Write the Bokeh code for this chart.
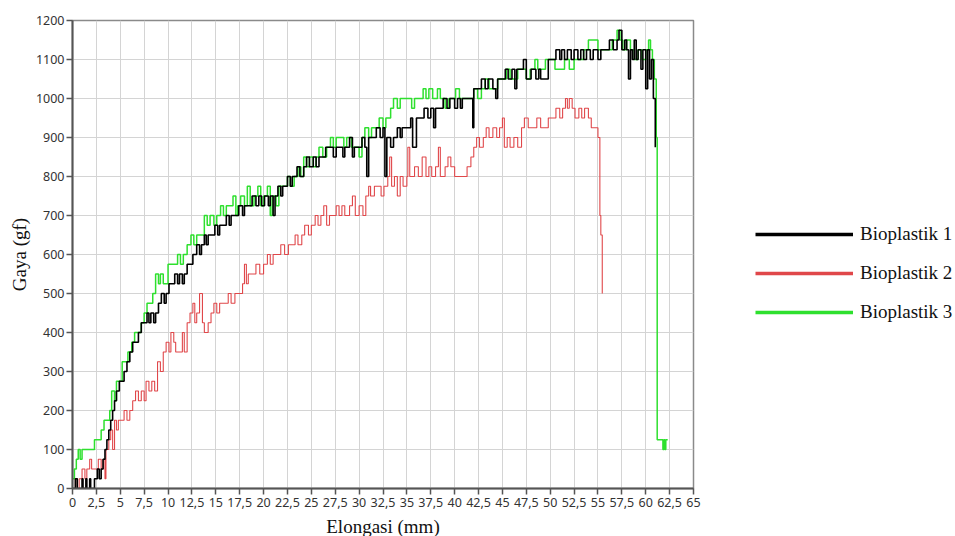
from bokeh.plotting import figure
from bokeh.models import FixedTicker, Legend, LegendItem, Range1d
from bokeh.embed import file_html
from bokeh.resources import INLINE

# ---------------- data ----------------
x_ticks = [0, 2.5, 5, 7.5, 10, 12.5, 15, 17.5, 20, 22.5, 25, 27.5, 30, 32.5, 35,
           37.5, 40, 42.5, 45, 47.5, 50, 52.5, 55, 57.5, 60, 62.5, 65]
x_tick_labels = ["0", "2,5", "5", "7,5", "10", "12,5", "15", "17,5", "20", "22,5",
                 "25", "27,5", "30", "32,5", "35", "37,5", "40", "42,5", "45",
                 "47,5", "50", "52,5", "55", "57,5", "60", "62,5", "65"]
y_ticks = [0, 100, 200, 300, 400, 500, 600, 700, 800, 900, 1000, 1100, 1200]

series_names = ["Bioplastik 1", "Bioplastik 2", "Bioplastik 3"]
series_colors = ["#000000", "#e0474a", "#2ee02e"]

# Bioplastik 1 (black)
x_b1 = [0, 0.3, 0.5, 1.0, 1.1, 1.4, 1.5, 1.8, 1.9, 2.3, 2.6, 2.8, 3.0, 3.2, 3.4, 3.6,
        3.8, 4.0, 4.2, 4.4, 4.6, 4.9, 5.1, 5.4, 5.7, 6.0, 6.3, 6.6, 6.9, 7.2, 7.5,
        7.8, 8.0, 8.2, 8.5, 8.7, 9.0, 9.3, 9.6, 9.8, 10.1, 10.4, 10.7, 11.0, 11.2,
        11.5, 11.7, 12.0, 12.4, 12.6, 13.0, 13.3, 13.5, 13.8, 14.0, 14.2, 14.6, 14.9,
        15.2, 15.4, 15.8, 16.1, 16.4, 16.6, 17.0, 17.4, 17.8, 18.0, 18.5, 18.8, 19.2,
        19.5, 19.8, 20.1, 20.5, 20.7, 21.0, 21.2, 21.5, 21.8, 22.0, 22.5, 22.8, 23.0,
        23.5, 23.8, 24.2, 24.5, 24.8, 25.2, 25.5, 25.8, 26.2, 26.5, 27.0, 27.3, 27.6,
        28.0, 28.3, 28.5, 29.0, 29.3, 29.5, 30.0, 30.3, 30.6, 30.8, 31.0, 31.5, 31.8,
        32.2, 32.5, 32.7, 32.9, 33.3, 33.6, 34.0, 34.3, 34.5, 35.0, 35.4, 35.6, 36.0,
        36.5, 36.8, 37.2, 37.5, 37.8, 38.0, 38.5, 38.8, 39.2, 39.5, 40.0, 40.3, 40.6,
        40.8, 41.2, 41.5, 41.9, 42.0, 42.5, 42.8, 43.2, 43.5, 44.0, 44.3, 44.5, 45.0,
        45.3, 45.6, 46.0, 46.3, 46.5, 47.0, 47.2, 47.5, 48.0, 48.5, 48.8, 49.0, 49.8,
        50.3, 50.6, 51.0, 51.2, 51.5, 51.8, 52.2, 52.5, 52.9, 53.2, 53.5, 53.8, 54.2,
        54.5, 55.0, 55.3, 55.8, 56.2, 56.6, 57.0, 57.2, 57.5, 57.8, 58.0, 58.2, 58.4,
        58.6, 58.8, 59.0, 59.2, 59.5, 59.7, 60.0, 60.2, 60.4, 60.6, 60.8, 61.0]
y_b1 = [0, 25, 0, 25, 0, 25, 0, 25, 0, 25, 50, 25, 50, 75, 100, 125,
        150, 175, 200, 225, 250, 275, 275, 300, 325, 350, 375, 375, 400, 425, 425,
        450, 425, 450, 425, 450, 475, 500, 475, 500, 525, 525, 550, 525, 550,
        525, 550, 575, 575, 600, 625, 600, 625, 650, 625, 650, 650, 675,
        650, 675, 675, 700, 675, 700, 700, 725, 700, 725, 725, 750, 725,
        750, 725, 750, 725, 750, 700, 750, 775, 750, 775, 800, 775, 800,
        825, 800, 825, 850, 825, 850, 825, 850, 850, 875, 875, 850, 875,
        875, 850, 875, 900, 850, 875, 875, 900, 875, 800, 900, 900, 925,
        900, 925, 800, 900, 875, 900, 925, 900, 925, 925, 950, 875, 950,
        950, 975, 950, 975, 925, 975, 975, 1000, 975, 1000, 975, 1000, 975,
        1000, 1000, 1000, 925, 1025, 1025, 1050, 1025, 1050, 1025, 1000, 1050, 1050,
        1075, 1050, 1075, 1025, 1075, 1075, 1100, 1050, 1075, 1050, 1075, 1050, 1100,
        1100, 1125, 1100, 1125, 1100, 1125, 1100, 1125, 1100, 1125, 1100, 1125, 1100,
        1125, 1100, 1125, 1125, 1150, 1125, 1150, 1175, 1125, 1150, 1125, 1050, 1125,
        1100, 1150, 1100, 1125, 1075, 1125, 1025, 1125, 1050, 1100, 1000, 875]

# Bioplastik 2 (red)
x_b2 = [0, 0.3, 0.5, 0.7, 1.0, 1.3, 1.5, 1.8, 2.0, 2.5, 2.7, 3.0, 3.2, 3.4, 3.5, 3.8,
        4.0, 4.2, 4.4, 4.6, 4.8, 5.2, 5.4, 5.7, 6.0, 6.3, 6.6, 6.9, 7.2, 7.5, 7.7,
        8.0, 8.3, 8.6, 8.9, 9.2, 9.5, 9.8, 10.1, 10.3, 10.6, 10.8, 11.2, 11.5, 11.7,
        12.0, 12.3, 12.6, 12.8, 13.0, 13.3, 13.6, 13.8, 14.2, 14.5, 14.8, 15.1, 15.4,
        15.8, 16.3, 16.6, 17.0, 17.4, 17.8, 18.0, 18.2, 18.4, 18.8, 19.2, 19.6, 20.0,
        20.4, 20.7, 21.0, 21.4, 21.8, 22.2, 22.6, 23.0, 23.3, 23.6, 24.0, 24.3, 24.7,
        25.0, 25.4, 25.7, 26.0, 26.3, 26.6, 26.9, 27.2, 27.6, 27.9, 28.2, 28.5, 29.0,
        29.3, 29.6, 30.0, 30.4, 30.7, 31.0, 31.2, 31.6, 32.0, 32.3, 32.6, 33.0, 33.2,
        33.4, 33.7, 34.0, 34.3, 34.6, 35.0, 35.1, 35.3, 35.8, 36.2, 36.6, 37.0, 37.3,
        37.6, 38.0, 38.3, 38.5, 39.0, 39.3, 39.6, 40.0, 40.5, 41.0, 41.3, 41.7, 42.0,
        42.3, 42.6, 43.0, 43.3, 43.6, 44.0, 44.4, 44.7, 45.0, 45.2, 45.5, 45.8, 46.2,
        46.6, 47.0, 47.3, 47.7, 48.2, 48.6, 49.0, 49.5, 49.8, 50.2, 50.6, 51.0, 51.3,
        51.6, 51.8, 52.0, 52.3, 52.6, 53.0, 53.3, 53.6, 54.0, 54.3, 54.7, 55.0, 55.2,
        55.3, 55.45]
y_b2 = [0, 25, 0, 25, 50, 25, 50, 75, 50, 50, 75, 50, 75, 25, 100, 125,
        150, 100, 175, 150, 175, 175, 200, 175, 200, 225, 250, 225, 250, 225, 275,
        250, 275, 250, 325, 300, 350, 375, 350, 400, 375, 350, 350, 400, 350,
        425, 450, 475, 425, 450, 500, 425, 400, 425, 450, 475, 450, 475,
        475, 500, 475, 500, 500, 525, 575, 525, 550, 550, 575, 550, 575,
        600, 575, 600, 600, 625, 600, 625, 625, 650, 625, 650, 675, 650,
        675, 700, 675, 700, 725, 675, 700, 700, 725, 700, 725, 700, 725,
        750, 700, 725, 700, 750, 775, 750, 775, 775, 750, 775, 800, 850,
        775, 800, 750, 800, 775, 800, 875, 800, 825, 800, 850, 800, 825,
        800, 825, 875, 800, 825, 850, 825, 800, 800, 800, 825, 850, 875,
        900, 875, 900, 925, 900, 925, 900, 925, 950, 875, 900, 875, 900,
        875, 925, 950, 925, 925, 950, 925, 925, 950, 950, 975, 950, 975,
        1000, 975, 1000, 975, 950, 975, 950, 975, 950, 925, 925, 900, 700,
        650, 500]

# Bioplastik 3 (green)
x_b3 = [0, 0.2, 0.4, 0.6, 0.8, 1.0, 1.5, 2.0, 2.3, 2.7, 3.0, 3.3, 3.6, 3.9, 4.1, 4.4,
        4.6, 5.0, 5.2, 5.5, 5.8, 6.2, 6.5, 6.8, 7.2, 7.5, 7.8, 8.1, 8.4, 8.7, 9.0,
        9.2, 9.5, 10.0, 10.5, 11.0, 11.3, 11.6, 12.0, 12.4, 12.7, 13.0, 13.5, 13.8,
        14.1, 14.4, 14.8, 15.1, 15.5, 15.8, 16.1, 16.5, 16.8, 17.1, 17.3, 17.6, 18.0,
        18.3, 18.6, 19.0, 19.4, 19.7, 20.0, 20.4, 20.7, 20.9, 21.3, 21.6, 22.0, 22.5,
        22.8, 23.2, 23.6, 23.9, 24.2, 24.5, 24.8, 25.2, 25.5, 25.8, 26.2, 26.6, 27.0,
        27.3, 27.6, 28.0, 28.4, 28.7, 29.2, 29.6, 30.0, 30.3, 30.6, 31.0, 31.3, 31.8,
        32.1, 32.5, 32.8, 33.3, 33.6, 34.0, 34.3, 35.0, 35.5, 35.8, 36.2, 36.7, 37.0,
        37.3, 37.7, 38.2, 38.5, 39.0, 39.4, 39.8, 40.1, 40.5, 41.0, 41.5, 42.0, 42.4,
        42.8, 43.2, 43.6, 44.0, 44.5, 45.0, 45.4, 45.8, 46.2, 46.6, 47.0, 47.5, 47.9,
        48.4, 48.7, 49.1, 49.5, 50.0, 50.5, 51.0, 51.5, 52.0, 52.5, 53.0, 53.5, 54.0,
        54.5, 55.0, 55.5, 56.0, 56.5, 57.0, 57.3, 57.6, 58.0, 58.4, 58.8, 59.2, 59.6,
        60.0, 60.3, 60.5, 60.7, 60.9, 61.1, 61.2, 61.6, 61.8, 61.9, 62.0, 62.1, 62.3]
y_b3 = [25, 50, 75, 100, 75, 100, 100, 100, 125, 125, 150, 175, 175, 200, 250, 225,
        275, 275, 325, 325, 350, 375, 400, 400, 425, 450, 475, 475, 500, 550, 525,
        550, 525, 575, 575, 600, 575, 600, 625, 650, 625, 650, 650, 700,
        675, 700, 675, 700, 725, 700, 725, 725, 750, 700, 725, 750, 725,
        775, 725, 750, 775, 725, 750, 775, 700, 750, 725, 775, 775, 800,
        775, 800, 825, 800, 850, 825, 850, 825, 850, 875, 850, 875, 900,
        875, 900, 900, 875, 900, 875, 875, 850, 900, 925, 900, 925, 925,
        950, 925, 950, 975, 1000, 975, 1000, 1000, 975, 1000, 1000, 1025, 1000,
        1025, 1000, 1025, 1000, 975, 1000, 1000, 1025, 1000, 1000, 1000, 1025, 1000,
        1025, 1050, 1025, 1025, 1050, 1050, 1075, 1050, 1050, 1075, 1075, 1050, 1075,
        1100, 1075, 1075, 1100, 1100, 1075, 1075, 1100, 1075, 1100, 1100, 1125, 1150,
        1150, 1125, 1125, 1125, 1150, 1175, 1150, 1125, 1150, 1125, 1100, 1125, 1100,
        1125, 1150, 1125, 1100, 1050, 900, 125, 125, 100, 125, 100, 125, 125]

# ---------------- figure ----------------
FRAME_W, FRAME_H = 621, 468
LEFT, TOP, BOTTOM = 72, 20, 48
RIGHT = 955 - LEFT - FRAME_W

p = figure(frame_width=FRAME_W, frame_height=FRAME_H,
           x_range=Range1d(0, 65), y_range=Range1d(0, 1200),
           output_backend="svg", toolbar_location=None,
           min_border_left=LEFT, min_border_right=RIGHT,
           min_border_top=TOP, min_border_bottom=BOTTOM,
           background_fill_color="white", border_fill_color="white")

p.outline_line_color = "#8a8a8a"
p.outline_line_width = 1.5

tick_font = "Noto Sans"
for ax in (p.xaxis[0], p.yaxis[0]):
    ax.axis_line_color = "#555555"
    ax.axis_line_width = 2
    ax.major_tick_line_color = "#555555"
    ax.major_tick_line_width = 1.5
    ax.major_tick_out = 6
    ax.major_tick_in = 0
    ax.minor_tick_out = 0
    ax.minor_tick_in = 0
    ax.major_label_text_font = tick_font
    ax.major_label_text_font_size = "12.5px"
    ax.major_label_text_color = "#333333"
    ax.axis_label_text_font = "Liberation Serif"
    ax.axis_label_text_font_size = "19px"
    ax.axis_label_text_font_style = "normal"
    ax.axis_label_text_color = "#111111"

p.xaxis.ticker = FixedTicker(ticks=x_ticks)
p.xaxis.major_label_overrides = {t: l for t, l in zip(x_ticks, x_tick_labels)}
p.yaxis.ticker = FixedTicker(ticks=y_ticks)
p.xaxis.major_label_standoff = 3
p.yaxis.major_label_standoff = 2
p.xaxis.axis_label = "Elongasi (mm)"
p.yaxis.axis_label = "Gaya (gf)"
p.xaxis.axis_label_standoff = 6
p.yaxis.axis_label_standoff = 3

p.xgrid.ticker = FixedTicker(ticks=x_ticks)
p.ygrid.ticker = FixedTicker(ticks=y_ticks)
for g in (p.xgrid[0], p.ygrid[0]):
    g.grid_line_color = "#d4d4d4"
    g.grid_line_width = 1

series = [(x_b1, y_b1), (x_b2, y_b2), (x_b3, y_b3)]
widths = [1.6, 1.1, 1.5]
draw_order = [2, 1, 0]
for i in draw_order:
    xs, ys = series[i]
    p.step(xs, ys, mode="after", line_color=series_colors[i], line_width=widths[i])

# legend-only renderers (no visible data; NaN placeholders) with thicker swatches
nan = float("nan")
items = []
for name, col in zip(series_names, series_colors):
    r = p.line([nan], [nan], line_color=col, line_width=3.5)
    items.append(LegendItem(label=name, renderers=[r]))

legend = Legend(items=items, location=(62, 165),
                glyph_width=98, glyph_height=20, label_height=20, spacing=17,
                label_standoff=7, padding=0, margin=0,
                border_line_color=None, background_fill_alpha=0,
                label_text_font="Liberation Serif", label_text_font_size="19px",
                label_text_color="#111111")
p.add_layout(legend, "right")

open("out.html", "w").write(file_html(p, INLINE))
